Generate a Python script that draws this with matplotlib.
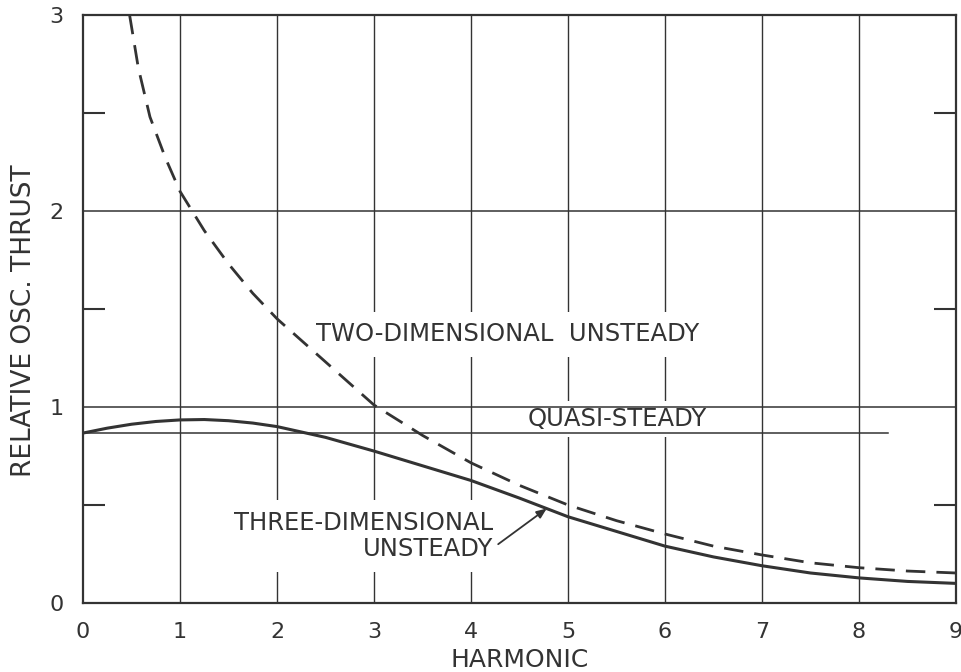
import numpy as np
import matplotlib
matplotlib.use('Agg')
import matplotlib.pyplot as plt

plt.rcParams['font.family'] = ['DejaVu Sans']

INK = '#333333'

# harmonic number vs relative oscillating thrust
harm_3d = [0, 0.25, 0.5, 0.75, 1, 1.25, 1.5, 1.75, 2, 2.5, 3, 3.5, 4, 4.5, 5, 5.5,
           6, 6.5, 7, 7.5, 8, 8.5, 9]
thrust_3d = [0.867, 0.892, 0.912, 0.926, 0.934, 0.936, 0.93, 0.918, 0.90, 0.845, 0.775,
             0.70, 0.625, 0.535, 0.44, 0.365, 0.29, 0.235, 0.19, 0.153, 0.128, 0.11, 0.10]

harm_2d = [0.48, 0.57, 0.69, 0.85, 1.0, 1.25, 1.5, 1.75, 2, 2.5, 3, 3.5, 4, 4.5, 5,
           5.5, 6, 6.5, 7, 7.5, 8, 8.5, 9]
thrust_2d = [3.0, 2.73, 2.48, 2.27, 2.1, 1.90, 1.73, 1.58, 1.45, 1.23, 1.01, 0.855,
             0.715, 0.60, 0.50, 0.42, 0.352, 0.29, 0.245, 0.205, 0.18, 0.163, 0.153]

quasi_steady = 0.867
quasi_end = 8.3

xticks = list(range(0, 10))
yticks = [0, 1, 2, 3]
ytick_minor = [0.5, 1.5, 2.5]

fig = plt.figure(figsize=(9.61, 6.72), dpi=100)
ax = fig.add_axes([0.0864, 0.1027, 0.9084, 0.875])

ax.set_xlim(0, 9)
ax.set_ylim(0, 3)

# vertical grid sits under the label boxes, horizontal rules on top
for x in xticks[1:-1]:
    ax.axvline(x, color=INK, lw=1.0, zorder=1)
for y in yticks[1:-1]:
    ax.axhline(y, color=INK, lw=1.1, zorder=3)

ax.plot([0, quasi_end], [quasi_steady, quasi_steady], color=INK, lw=1.1, zorder=3)
ax.plot(harm_3d, thrust_3d, color=INK, lw=2.2, zorder=4, solid_capstyle='butt')
ax.plot(harm_2d, thrust_2d, color=INK, lw=2.0, dashes=[7, 4], zorder=4)

box = dict(boxstyle='square,pad=0.45', fc='white', ec='none')
ax.text(4.376, 1.37, 'TWO-DIMENSIONAL  UNSTEADY', ha='center', va='center',
        fontsize=17.5, color=INK, bbox=box, zorder=2)
ax.text(5.505, 0.94, 'QUASI-STEADY', ha='center', va='center',
        fontsize=17.5, color=INK, bbox=dict(boxstyle='square,pad=0.25', fc='white', ec='none'),
        zorder=2)
ax.text(4.227, 0.343, 'THREE-DIMENSIONAL\nUNSTEADY', ha='right', va='center',
        multialignment='right', fontsize=17.5, color=INK, linespacing=1.1,
        bbox=box, zorder=2)

head_x = 4.78
head_y = np.interp(head_x, harm_3d, thrust_3d)
ax.annotate('', xy=(head_x, head_y), xytext=(4.28, 0.30),
            arrowprops=dict(arrowstyle='-|>,head_length=0.6,head_width=0.25',
                            color=INK, lw=1.3, shrinkA=0, shrinkB=0), zorder=5)

for s in ax.spines.values():
    s.set_color(INK)
    s.set_linewidth(1.6)
    s.set_zorder(6)

ax.set_xticks(xticks)
ax.set_yticks(yticks)
ax.set_yticks(ytick_minor, minor=True)
ax.tick_params(axis='x', which='major', length=0, pad=14, labelsize=16, labelcolor=INK)
ax.tick_params(axis='y', which='major', length=0, pad=14, labelsize=16, labelcolor=INK)
ax.tick_params(axis='y', which='minor', direction='in', length=16, width=1.5,
               color=INK, left=True, right=True)

ax.set_xlabel('HARMONIC', fontsize=18, color=INK, labelpad=4)
ax.set_ylabel('RELATIVE OSC. THRUST', fontsize=19, color=INK)
ax.yaxis.set_label_coords(-0.053, 0.48)

fig.savefig('out.png', dpi=100)
